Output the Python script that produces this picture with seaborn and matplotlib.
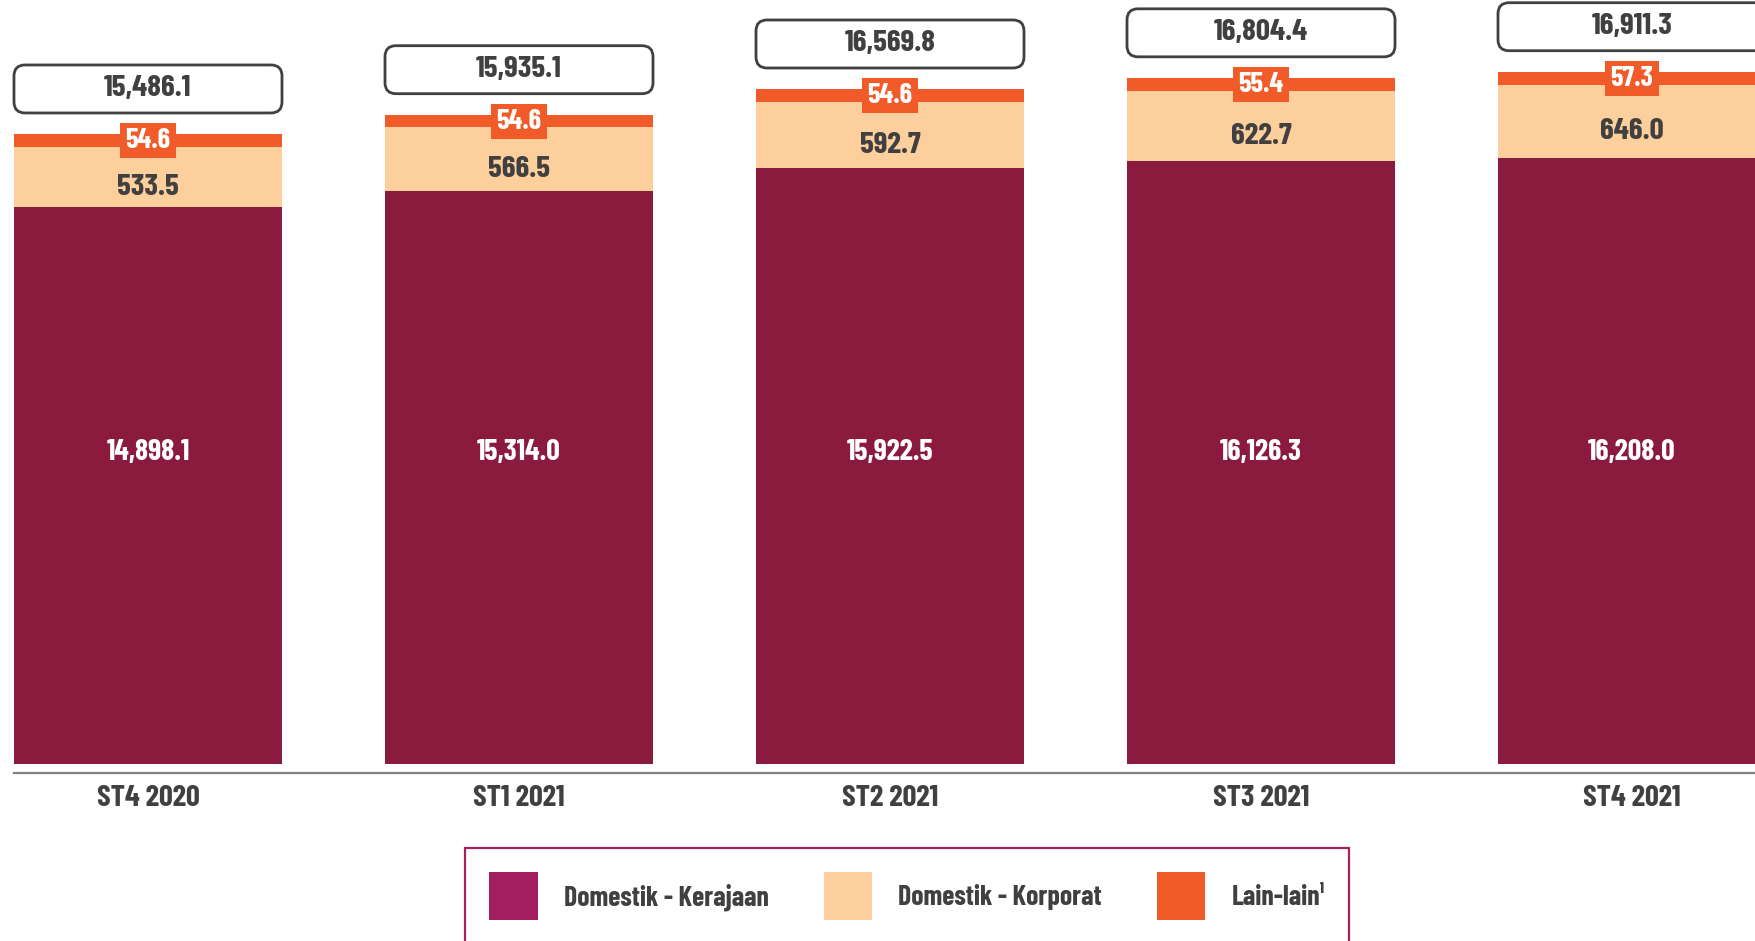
import matplotlib
matplotlib.use("Agg")
import matplotlib.pyplot as plt
import matplotlib.transforms as mtransforms
from matplotlib.patches import FancyBboxPatch, Patch
import pandas as pd
import seaborn as sns

# ---------------- data ----------------
categories = ["ST4 2020", "ST1 2021", "ST2 2021", "ST3 2021", "ST4 2021"]
kerajaan = [14898.1, 15314.0, 15922.5, 16126.3, 16208.0]
korporat = [533.5, 566.5, 592.7, 622.7, 646.0]
lain_lain = [54.6, 54.6, 54.6, 55.4, 57.3]
totals = [15486.1, 15935.1, 16569.8, 16804.4, 16911.3]
series_labels = ["Domestik - Kerajaan", "Domestik - Korporat", "Lain-lain\u00b9"]

# the reference chart draws the thin segments enlarged so that they stay visible
KORPORAT_DISPLAY_SCALE = 3.0
LAIN_DISPLAY_SCALE = 6.0

# ---------------- style ----------------
C_KER = "#8B1A3F"
C_KER_LEG = "#A21E5E"
C_KOR = "#FDCF9D"
C_LAIN = "#F15A29"
C_TEXT = "#404040"
C_AXIS = "#808080"
C_LEG_EDGE = "#A3215E"
FONT = ["Barlow Condensed", "DejaVu Sans"]

sns.set_theme(style="white")
plt.rcParams["font.family"] = FONT
plt.rcParams["font.weight"] = "bold"

df = pd.DataFrame({
    "category": categories,
    "kerajaan": kerajaan,
    "korporat": korporat,
    "lain": lain_lain,
    "total": totals,
})
df["ker_top"] = df["kerajaan"]
df["kor_top"] = df["ker_top"] + df["korporat"] * KORPORAT_DISPLAY_SCALE
df["lain_top"] = df["kor_top"] + df["lain"] * LAIN_DISPLAY_SCALE

FIG_W, FIG_H = 1755, 941
fig = plt.figure(figsize=(FIG_W / 100, FIG_H / 100), dpi=100)
AX_BOTTOM_PX = 168
AX_H_PX = FIG_H - AX_BOTTOM_PX
ax = fig.add_axes([0, AX_BOTTOM_PX / FIG_H, 1, AX_H_PX / FIG_H])

W = 0.7224
for col, colr in [("lain_top", C_LAIN), ("kor_top", C_KOR), ("ker_top", C_KER)]:
    sns.barplot(data=df, x="category", y=col, order=categories, color=colr,
                saturation=1, width=W, errorbar=None, linewidth=0, ax=ax)

XMIN, XMAX = -0.3989, 4.3315
YMIN, YMAX = -240, 20420
ax.set_xlim(XMIN, XMAX)
ax.set_ylim(YMIN, YMAX)
ax.set_xlabel("")
ax.set_ylabel("")
ax.set_yticks([])
sns.despine(ax=ax, left=True)
ax.spines["bottom"].set_color(C_AXIS)
ax.spines["bottom"].set_linewidth(1.6)
ax.spines["bottom"].set_bounds(-W / 2, XMAX)
ax.tick_params(axis="x", length=0, pad=8.5, labelsize=22, labelcolor=C_TEXT)
for t in ax.get_xticklabels():
    t.set_fontweight("bold")
    t.set_family(FONT)

# pixel -> data conversions
y_per_px = (YMAX - YMIN) / AX_H_PX
x_per_px = (XMAX - XMIN) / FIG_W

blend = mtransforms.blended_transform_factory(ax.transData, ax.transAxes)
for i, row in df.iterrows():
    # Kerajaan values
    ax.text(i, 0.414, f"{row['kerajaan']:,.1f}", transform=blend, ha="center",
            va="center", color="white", fontsize=21.5, fontweight="bold")
    # Korporat values
    ax.annotate(f"{row['korporat']:,.1f}", xy=(i, (row["ker_top"] + row["kor_top"]) / 2),
                xytext=(0, -7.5), textcoords="offset points", ha="center", va="center",
                color=C_TEXT, fontsize=22.5, fontweight="bold")
    # Lain-lain values
    ax.text(i, (row["kor_top"] + row["lain_top"]) / 2, f"{row['lain']:,.1f}",
            ha="center", va="center", color="white", fontsize=20.5, fontweight="bold",
            bbox=dict(boxstyle="square,pad=0.18", fc=C_LAIN, ec="none"))
    # Total box
    b0 = row["lain_top"] + 21.5 * y_per_px
    bh = 48 * y_per_px
    box = FancyBboxPatch((i - W / 2, b0), W, bh,
                         boxstyle=f"round,pad=0,rounding_size={11 * x_per_px}",
                         mutation_aspect=y_per_px / x_per_px,
                         fc="white", ec=C_TEXT, lw=2.0, clip_on=False, zorder=3)
    ax.add_patch(box)
    ax.text(i, b0 + bh / 2, f"{row['total']:,.1f}", ha="center", va="center",
            color=C_TEXT, fontsize=22.5, fontweight="bold", zorder=4)

# legend
LEG_FS = 20
handles = [Patch(facecolor=c, edgecolor="none") for c in (C_KER_LEG, C_KOR, C_LAIN)]
leg = fig.legend(handles, series_labels, loc="upper left",
                 bbox_to_anchor=(465 / FIG_W, 1 - 848 / FIG_H), bbox_transform=fig.transFigure,
                 ncol=3, prop=dict(family=FONT, weight="bold", size=LEG_FS),
                 frameon=True, fancybox=False, borderaxespad=0,
                 handlelength=1.73, handleheight=2.28, handletextpad=0.94,
                 columnspacing=2.0, borderpad=0.88)
frame = leg.get_frame()
frame.set_edgecolor(C_LEG_EDGE)
frame.set_linewidth(1.6)
frame.set_facecolor("white")
frame.set_alpha(1)
for t in leg.get_texts():
    t.set_color(C_TEXT)

fig.savefig("out.png", dpi=100, facecolor="white")
